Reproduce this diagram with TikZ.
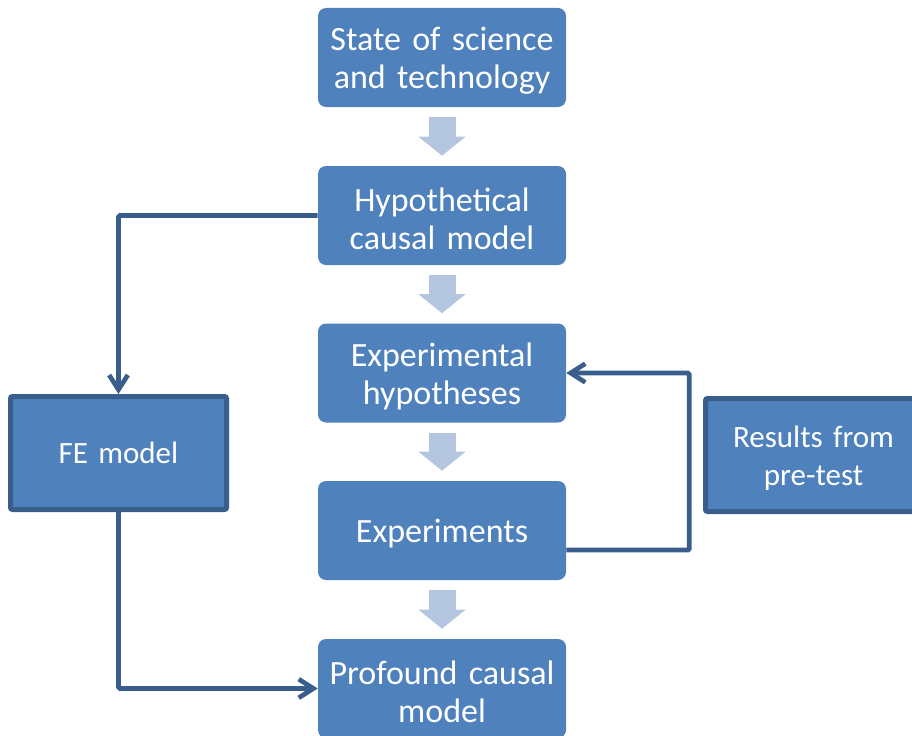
\documentclass[tikz,border=0pt]{standalone}
\usepackage{fontspec}
\setmainfont{Carlito}[WordSpace=0.85]
\usetikzlibrary{calc,arrows.meta}
\definecolor{boxblue}{HTML}{4F81BD}
\definecolor{darkblue}{HTML}{3A5E8C}
\definecolor{paleblue}{HTML}{B4C5DF}

\begin{document}
\begin{tikzpicture}[x=0.75pt,y=-0.75pt]
\tikzset{
% Two node styles: the rounded steps and the framed side boxes
main node/.style={rectangle,rounded corners=6pt,fill=boxblue,text=white,
  minimum width=186pt,minimum height=74.25pt,inner sep=0pt,text width=180pt,
  align=center,font=\fontsize{25.5}{28.5}\selectfont,
  execute at end node={\par\vspace{-4.5pt}}},
side node/.style={rectangle,rounded corners=1.5pt,fill=boxblue,draw=darkblue,
  line width=3.75pt,text=white,minimum width=162pt,minimum height=84.75pt,
  inner sep=0pt,text width=150pt,align=center,font=\fontsize{23.25}{28.5}\selectfont,
  execute at end node={\par\vspace{-4.5pt}}},
block arrow/.style={draw=paleblue,line width=20.25pt,shorten <=7.5pt,shorten >=7.5pt,
  -{Triangle[length=14.25pt,width=34.5pt]}},
link/.style={draw=darkblue,line width=3.5pt,rounded corners=1pt,
  -{Straight Barb[length=11pt,width=14pt]}}
}
\clip (0,0) rectangle (912,735);

% The steps in the middle column
\node(state)[main node] at (442,57.5) {State of science\\and technology};
\node(hyp)[main node] at (442,215.5) {Hypothetical\\causal model};
\node(exph)[main node] at (442,373) {Experimental\\hypotheses};
\node(expt)[main node] at (442,530.5) {Experiments};
\node(prof)[main node] at (442,688.5) {Profound causal\\model};

% The side boxes
\node(fe)[side node] at (118.5,453) {FE model};
\node(res)[side node] at (813.5,455) {Results from\\pre-test};

% Block arrows between the steps
\draw[block arrow] (state.south) -- (hyp.north);
\draw[block arrow] (hyp.south) -- (exph.north);
\draw[block arrow] (exph.south) -- (expt.north);
\draw[block arrow] (expt.south) -- (prof.north);

% Connectors
\coordinate (expout) at ($(expt.east)+(0,19.5)$);
\coordinate (loop) at ($(expout)+(123,0)$);
\draw[link] (hyp.west) -| (fe.north);
\draw[link] (fe.south) |- (prof.west);
\draw[link] (expout) -- (loop) |- (exph.east);
\end{tikzpicture}
\end{document}
